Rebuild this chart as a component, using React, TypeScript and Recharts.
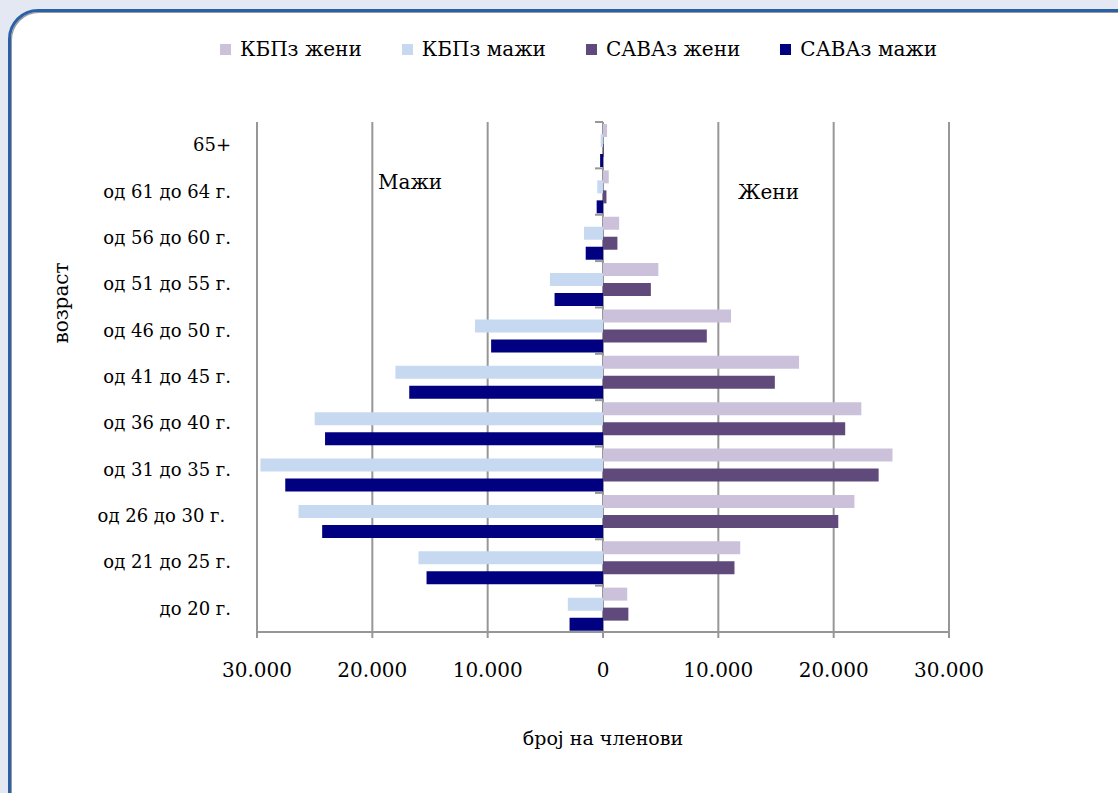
import React from 'react';
import { BarChart, Bar, XAxis, YAxis, CartesianGrid, Legend, Label, Customized } from 'recharts';

// age groups, top to bottom
const ageGroups = [
  '65+',
  'од 61 до 64 г.',
  'од 56 до 60 г.',
  'од 51 до 55 г.',
  'од 46 до 50 г.',
  'од 41 до 45 г.',
  'од 36 до 40 г.',
  'од 31 до 35 г.',
  'од 26 до 30 г. ',
  'од 21 до 25 г.',
  'до 20 г.',
];

// men are kept negative so they grow to the left
const kbpzWomen = [350, 500, 1400, 4800, 11100, 17000, 22400, 25100, 21800, 11900, 2100];
const kbpzMen = [-200, -500, -1650, -4600, -11100, -18000, -25000, -29700, -26400, -16000, -3050];
const savazWomen = [80, 300, 1250, 4150, 9000, 14900, 21000, 23900, 20400, 11400, 2200];
const savazMen = [-250, -550, -1500, -4200, -9700, -16800, -24100, -27550, -24350, -15300, -2900];

const xTicks = [-30000, -20000, -10000, 0, 10000, 20000, 30000];

const data = ageGroups.map((group, i) => ({
  group,
  kbpzW: kbpzWomen[i],
  kbpzM: kbpzMen[i],
  savazW: savazWomen[i],
  savazM: savazMen[i],
}));

const W = 1118;
const H = 793;
const MARGIN = { top: 122, right: 169, bottom: 41, left: 0 };
const Y_AXIS_W = 257;
const X_AXIS_H = 120;
const PLOT_W = W - MARGIN.left - MARGIN.right - Y_AXIS_W;
const PLOT_H = H - MARGIN.top - MARGIN.bottom - X_AXIS_H;
const ZERO_X = MARGIN.left + Y_AXIS_W + PLOT_W / 2;
const BAND = PLOT_H / ageGroups.length;

const FONT = '"DejaVu Serif", serif';
const GRID = '#979797';

const fmt = (v: number) => {
  const a = Math.abs(v);
  if (a === 0) return '0';
  return `${Math.floor(a / 1000)}.${String(a % 1000).padStart(3, '0')}`;
};

const AgeTick = (props: any) => {
  const { x, y, payload, index } = props;
  const last = index === ageGroups.length - 1;
  return (
    <g>
      <text
        x={x}
        y={y}
        dy={6}
        textAnchor="end"
        fontFamily={FONT}
        fontSize={18}
        fill="#000"
        style={{ whiteSpace: 'pre' }}
      >
        {payload.value}
      </text>
      <line x1={ZERO_X - 8} x2={ZERO_X} y1={y - BAND / 2} y2={y - BAND / 2} stroke={GRID} strokeWidth={2} />
      {last && (
        <line x1={ZERO_X - 8} x2={ZERO_X} y1={y + BAND / 2} y2={y + BAND / 2} stroke={GRID} strokeWidth={2} />
      )}
    </g>
  );
};

const renderLegend = (props: any) => {
  const { payload } = props;
  return (
    <div style={{ display: 'flex', alignItems: 'center', fontFamily: FONT, fontSize: 20, color: '#000', whiteSpace: 'nowrap' }}>
      {payload.map((entry: any, i: number) => (
        <div key={i} style={{ display: 'flex', alignItems: 'center', marginRight: i < payload.length - 1 ? 40 : 0 }}>
          <span
            style={{ display: 'inline-block', flexShrink: 0, width: 11, height: 11, background: entry.color, marginRight: 9 }}
          />
          <span>{entry.value}</span>
        </div>
      ))}
    </div>
  );
};

const SideNotes = () => (
  <g fontFamily={FONT} fontSize={20} fill="#000">
    <text x={378} y={189}>Мажи</text>
    <text x={738} y={199}>Жени</text>
  </g>
);

export default function App() {
  return (
    <div style={{ position: 'fixed', left: 0, top: 0, width: W, height: H, overflow: 'hidden', background: '#E4E8F2' }}>
      <div
        style={{
          position: 'absolute',
          left: 8,
          top: 9,
          width: 1160,
          height: 830,
          background: '#fff',
          border: '3px solid #2A60A6',
          borderRadius: 30,
          boxShadow: 'inset 1px 1px 0 #9a9a9a',
        }}
      />
      <div style={{ position: 'absolute', left: 0, top: 0 }}>
        <BarChart
          width={W}
          height={H}
          data={data}
          layout="vertical"
          margin={MARGIN}
          barSize={13}
          barGap={-3}
        >
          <CartesianGrid horizontal={false} stroke={GRID} strokeWidth={2} />
          <XAxis
            type="number"
            domain={[-30000, 30000]}
            ticks={xTicks}
            tickFormatter={fmt}
            height={X_AXIS_H}
            axisLine={{ stroke: GRID, strokeWidth: 2 }}
            tickLine={{ stroke: GRID, strokeWidth: 2 }}
            tickSize={6}
            tickMargin={25}
            tick={{ fill: '#000', fontFamily: FONT, fontSize: 20 }}
          >
            <Label value="број на членови" position="insideBottom" offset={7} fill="#000" fontFamily={FONT} fontSize={19} />
          </XAxis>
          <YAxis
            type="category"
            dataKey="group"
            width={Y_AXIS_W}
            axisLine={false}
            tickLine={false}
            tickMargin={20}
            interval={0}
            tick={<AgeTick />}
          >
            <Label
              content={() => (
                <text
                  x={68}
                  y={303}
                  transform="rotate(-90 68 303)"
                  textAnchor="middle"
                  fontFamily={FONT}
                  fontSize={20}
                  fill="#000"
                >
                  возраст
                </text>
              )}
            />
          </YAxis>
          <Legend
            layout="horizontal"
            verticalAlign="middle"
            align="center"
            content={renderLegend}
            wrapperStyle={{ top: 37, left: 220, width: 'auto' }}
          />
          <Bar dataKey="kbpzW" name="КБПз жени" fill="#CCC1DA" isAnimationActive={false} />
          <Bar dataKey="kbpzM" name="КБПз мажи" fill="#C6D9F1" isAnimationActive={false} />
          <Bar dataKey="savazW" name="САВАз жени" fill="#604A7B" isAnimationActive={false} />
          <Bar dataKey="savazM" name="САВАз мажи" fill="#000080" isAnimationActive={false} />
          <Customized component={SideNotes} />
        </BarChart>
      </div>
    </div>
  );
}
